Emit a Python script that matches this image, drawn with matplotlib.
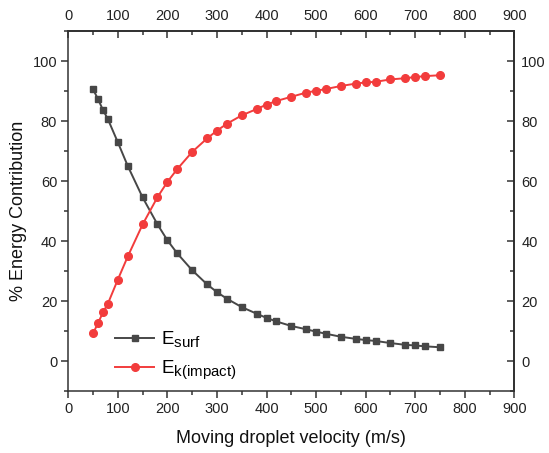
import matplotlib
matplotlib.use("Agg")
import matplotlib.pyplot as plt
from matplotlib.ticker import MultipleLocator

try:
    import matplotlib._mathtext as _mt
    _mt.SHRINK_FACTOR = 0.8
except Exception:
    pass

plt.rcParams['font.family'] = ['Liberation Sans', 'DejaVu Sans']
plt.rcParams['mathtext.fontset'] = 'custom'
plt.rcParams['mathtext.rm'] = 'Liberation Sans'
plt.rcParams['mathtext.it'] = 'Liberation Sans'

velocity = [50, 60, 70, 80, 100, 120, 150, 180, 200, 220, 250, 280, 300, 320, 350,
            380, 400, 420, 450, 480, 500, 520, 550, 580, 600, 620, 650, 680, 700, 720, 750]
e_surf = [90.7, 87.4, 83.8, 80.7, 73.0, 65.1, 54.6, 45.6, 40.3, 35.9, 30.3, 25.6, 23.0, 20.8, 18.0,
          15.8, 14.4, 13.2, 11.7, 10.6, 9.8, 9.1, 8.1, 7.4, 7.0, 6.7, 6.0, 5.4, 5.2, 4.9, 4.6]
e_kin = [9.2, 12.7, 16.2, 19.2, 27.2, 34.9, 45.6, 54.7, 59.8, 64.1, 69.8, 74.3, 76.9, 79.2, 82.0,
         84.1, 85.6, 86.8, 88.2, 89.6, 90.2, 90.8, 91.8, 92.6, 93.0, 93.2, 94.0, 94.4, 94.8, 95.1, 95.4]

TICK_FS = 10.5

fig = plt.figure(figsize=(5.49, 4.53), dpi=100)
ax = fig.add_axes([0.1244, 0.1369, 0.8124, 0.7936])

ax.plot(velocity, e_surf, color='#474747', marker='s', markersize=5, lw=1.4,
        label=r'$\mathregular{E_{surf}}$')
ax.plot(velocity, e_kin, color='#f23c3c', marker='o', markersize=5.5, lw=1.4,
        label=r'$\mathregular{E_{k(impact)}}$')

ax.set_xlim(0, 900)
ax.set_ylim(-10, 110)
ax.xaxis.set_major_locator(MultipleLocator(100))
ax.xaxis.set_minor_locator(MultipleLocator(50))
ax.set_yticks([0, 20, 40, 60, 80, 100])
ax.yaxis.set_minor_locator(MultipleLocator(10))

for s in ax.spines.values():
    s.set_linewidth(1.1)
    s.set_color('#333333')

ax.tick_params(axis='both', which='major', direction='out', length=5, width=1.1,
               labelsize=TICK_FS, colors='#333333', labelcolor='#222222', pad=3)
ax.tick_params(axis='both', which='minor', direction='out', length=3, width=1.1, colors='#333333')

# top axis
axt = ax.secondary_xaxis('top')
axt.xaxis.set_major_locator(MultipleLocator(100))
axt.xaxis.set_minor_locator(MultipleLocator(50))
axt.tick_params(which='major', direction='in', length=5, width=1.1, labelsize=TICK_FS,
                colors='#333333', labelcolor='#222222', pad=6)
axt.tick_params(which='minor', direction='in', length=3, width=1.1, colors='#333333')
axt.spines['top'].set_linewidth(1.1)
axt.xaxis.get_offset_text().set_visible(False)

# right axis
axr = ax.secondary_yaxis('right')
axr.set_yticks([0, 20, 40, 60, 80, 100])
axr.yaxis.set_minor_locator(MultipleLocator(10))
axr.tick_params(which='major', direction='in', length=5, width=1.1, labelsize=TICK_FS,
                colors='#333333', labelcolor='#222222', pad=5)
axr.tick_params(which='minor', direction='in', length=3, width=1.1, colors='#333333')
axr.spines['right'].set_linewidth(1.1)
axr.yaxis.get_offset_text().set_visible(False)

ax.set_xlabel('Moving droplet velocity (m/s)', fontsize=13, labelpad=10, color='#111111')
ax.set_ylabel('% Energy Contribution', fontsize=13, labelpad=4, color='#111111')

leg = ax.legend(loc='lower left', bbox_to_anchor=(0.075, -0.01), frameon=False,
                fontsize=13.5, handlelength=2.1, handletextpad=0.35, labelspacing=0.5,
                borderaxespad=0.3)

fig.savefig('out.png', dpi=100)
